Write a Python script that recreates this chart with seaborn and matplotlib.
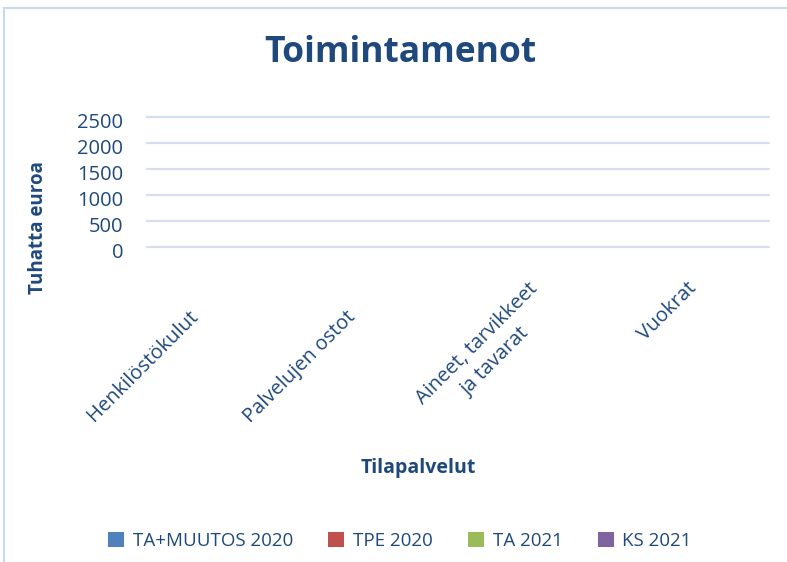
import numpy as np
import pandas as pd
import seaborn as sns
import matplotlib.pyplot as plt
import matplotlib.transforms as mtransforms
from matplotlib.patches import Rectangle

# chart data (all values are zero in the source chart)
categories = ['Henkilöstökulut', 'Palvelujen ostot', 'Aineet, tarvikkeet\nja tavarat', 'Vuokrat']
series = ['TA+MUUTOS 2020', 'TPE 2020', 'TA 2021', 'KS 2021']
ta_muutos_2020 = [0, 0, 0, 0]
tpe_2020 = [0, 0, 0, 0]
ta_2021 = [0, 0, 0, 0]
ks_2021 = [0, 0, 0, 0]
y_ticks = [0, 500, 1000, 1500, 2000, 2500]

# colors
colors = ['#4F81BD', '#C0504D', '#9BBB59', '#8064A2']
text_color = '#1F497D'
grid_color = '#D3DFF0'

df = pd.DataFrame({
    'category': categories * 4,
    'series': np.repeat(series, len(categories)),
    'value': ta_muutos_2020 + tpe_2020 + ta_2021 + ks_2021,
})

# initialize the plot
sns.set_style('white')
plt.rcParams['font.family'] = ['Open Sans', 'DejaVu Sans']
fig = plt.figure(figsize=(7.87, 5.62), dpi=100)
ax = fig.add_axes([147 / 787, 1 - 247 / 562, 622 / 787, 130 / 562])

sns.barplot(data=df, x='category', y='value', hue='series', order=categories,
            hue_order=series, palette=colors, saturation=1, linewidth=0, ax=ax)

# axis limits and grid
ax.set_ylim(0, 2500)
ax.set_yticks(y_ticks)
ax.yaxis.grid(True, color=grid_color, linewidth=1.6)
for gl in ax.get_ygridlines():
    gl.set_clip_on(False)
ax.set_axisbelow(True)
for side in ['top', 'right', 'left', 'bottom']:
    ax.spines[side].set_visible(False)

# ticks
ax.tick_params(axis='y', length=0, pad=17, labelsize=14.5, labelcolor=text_color)
ax.tick_params(axis='x', length=0, pad=0, labelsize=14.5, labelcolor=text_color)
# y tick labels sit a little below their gridlines in the original
for lab in ax.get_yticklabels():
    lab.set_transform(lab.get_transform() +
                      mtransforms.ScaledTranslation(0, -4 / 100, fig.dpi_scale_trans))
ax.set_xticks(range(len(categories)))
ax.set_xticklabels(categories, rotation=45, ha='right', va='top',
                   rotation_mode='anchor', multialignment='center', linespacing=1.35)
# per-label offsets (pixels) to mimic the spreadsheet label placement
offsets = [(-37, 60), (-35, 60), (-8, 32), (-5, 31)]
for lab, (dx, dy) in zip(ax.get_xticklabels(), offsets):
    lab.set_transform(lab.get_transform() +
                      mtransforms.ScaledTranslation(dx / 100, -dy / 100, fig.dpi_scale_trans))

# axis labels
ax.set_ylabel('Tuhatta euroa', size=13.5, weight='bold', color=text_color)
ax.yaxis.set_label_coords((48 - 147) / 622, (247 - 228) / 130)
ax.set_xlabel('Tilapalvelut', size=14, weight='bold', color=text_color)
ax.xaxis.set_label_coords((418 - 147) / 622, (247 - 458) / 130)

# title
fig.text(400 / 787, 1 - 35 / 562, 'Toimintamenot', ha='center', va='top',
         size=25.5, weight='bold', color=text_color)

# legend
handles, labels = ax.get_legend_handles_labels()
ax.legend_.remove()
fig.legend(handles, labels, loc='center', bbox_to_anchor=(400 / 787, 1 - 541 / 562),
           ncol=4, frameon=False, fontsize=13.5, labelcolor=text_color,
           handlelength=0.85, handleheight=0.85, handletextpad=0.45, columnspacing=1.9)

# chart frame
fig.patches.append(Rectangle((4 / 787, -0.5), 2, 1.5 - 8 / 562, transform=fig.transFigure,
                             fill=False, edgecolor='#C6D9F1', linewidth=1.5))

plt.savefig('out.png', dpi=100)
